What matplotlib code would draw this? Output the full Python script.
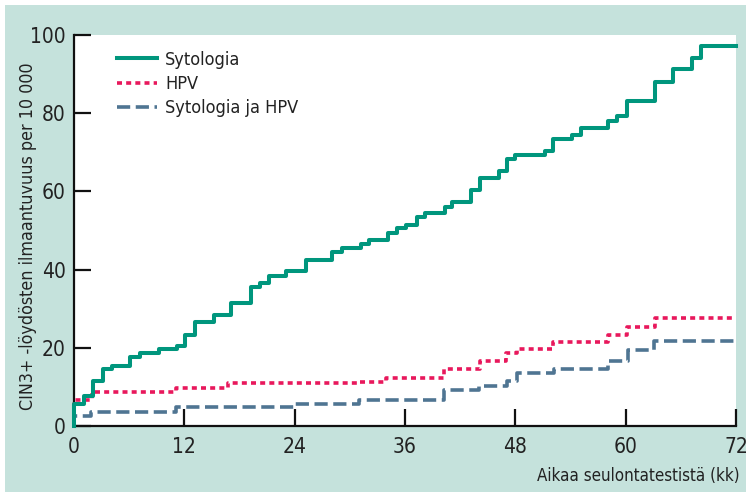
import matplotlib
matplotlib.use("Agg")
import matplotlib.pyplot as plt
from matplotlib.patches import Rectangle

plt.rcParams['font.family'] = ['DejaVu Sans']
plt.rcParams['font.stretch'] = 'condensed'
plt.rcParams['lines.scale_dashes'] = False

# Kumulatiivinen CIN3+ -ilmaantuvuus (per 10 000), kuukaudet
syto_t = [0, 1.1, 2.1, 3.2, 4.1, 6.1, 7.2, 9.2, 11.2, 12.1, 13.2, 15.2, 17.1, 19.3, 20.2,
          21.2, 23.1, 25.2, 28.1, 29.2, 31.2, 32.1, 34.2, 35.1, 36.1, 37.3, 38.2, 40.3, 41.1,
          43.2, 44.2, 46.2, 47.1, 48.0, 51.2, 52.1, 54.2, 55.1, 58.1, 59.1, 60.1, 63.2, 65.1,
          67.2, 68.2, 72]
syto_y = [5.6, 7.7, 11.6, 14.5, 15.4, 17.6, 18.6, 19.6, 20.5, 23.4, 26.5, 28.3, 31.4, 35.5, 36.7,
          38.4, 39.7, 42.5, 44.5, 45.5, 46.5, 47.6, 49.3, 50.6, 51.4, 53.4, 54.4, 56.1, 57.4,
          60.4, 63.3, 65.2, 68.3, 69.4, 70.3, 73.3, 74.4, 76.3, 78.1, 79.3, 83.2, 88.1, 91.2,
          94.2, 97.2, 97.2]

hpv_t = [0, 2.0, 11.1, 16.8, 31.1, 33.9, 40.2, 44.2, 47.0, 48.2, 52.1, 58.1, 60.1, 63.2, 72]
hpv_y = [6.6, 8.8, 9.8, 10.9, 11.3, 12.4, 14.6, 16.7, 18.6, 19.7, 21.6, 23.3, 25.4, 27.5, 27.5]

both_t = [0, 1.9, 11.1, 24.0, 31.0, 40.2, 44.1, 47.1, 48.2, 52.2, 58.1, 60.2, 63.1, 72]
both_y = [2.6, 3.5, 4.8, 5.5, 6.6, 9.2, 10.2, 11.6, 13.6, 14.5, 16.5, 19.4, 21.7, 21.7]

x_ticks = [0, 12, 24, 36, 48, 60, 72]
y_ticks = [0, 20, 40, 60, 80, 100]

bg = '#c5e2dc'
W, H = 746, 492
fig = plt.figure(figsize=(W / 100, H / 100), dpi=100, facecolor='white')
fig.patches.append(Rectangle((5 / W, 0), 1 - 5 / W, 1 - 5 / H, transform=fig.transFigure,
                             facecolor=bg, edgecolor='none', zorder=-10))

ax = fig.add_axes([74 / W, (H - 426) / H, (736 - 74) / W, (426 - 35) / H])
ax.set_facecolor('white')

ax.plot([0] + syto_t, [0] + syto_y, drawstyle='steps-post', color='#00967d', lw=2.9,
        label='Sytologia', clip_on=False, zorder=4)
ax.plot([0] + hpv_t, [0] + hpv_y, drawstyle='steps-post', color='#e8185c', lw=2.6,
        dashes=(3.6, 3.0), label='HPV', clip_on=False, zorder=3)
ax.plot([0] + both_t, [0] + both_y, drawstyle='steps-post', color='#4f7592', lw=2.6,
        dashes=(9.5, 4.0), label='Sytologia ja HPV', clip_on=False, zorder=3)

ax.set_xlim(0, 72)
ax.set_ylim(0, 100)
ax.set_xticks(x_ticks)
ax.set_yticks(y_ticks)
for s in ['top', 'right']:
    ax.spines[s].set_visible(False)
for s in ['left', 'bottom']:
    ax.spines[s].set_linewidth(1.6)
    ax.spines[s].set_color('#111111')
ax.tick_params(direction='in', length=12, width=1.6, color='#111111',
               labelsize=15, labelcolor='#222222', pad=6)
ax.tick_params(axis='x', pad=8)

leg = ax.legend(loc='upper left', bbox_to_anchor=(0.065, 0.96), frameon=False,
                fontsize=13, handlelength=2.2, handletextpad=0.45, labelspacing=0.35,
                borderpad=0, borderaxespad=0)
for t in leg.get_texts():
    t.set_color('#222222')

fig.text(537 / W, (H - 481) / H, 'Aikaa seulontatestistä (kk)', fontsize=12.2,
         color='#222222', ha='left', va='baseline')
fig.text(28 / W, 1 - 236 / H, 'CIN3+ -löydösten ilmaantuvuus per 10 000', fontsize=12.8,
         color='#222222', rotation=90, ha='center', va='center')

fig.savefig('out.png', dpi=100, facecolor=fig.get_facecolor())
